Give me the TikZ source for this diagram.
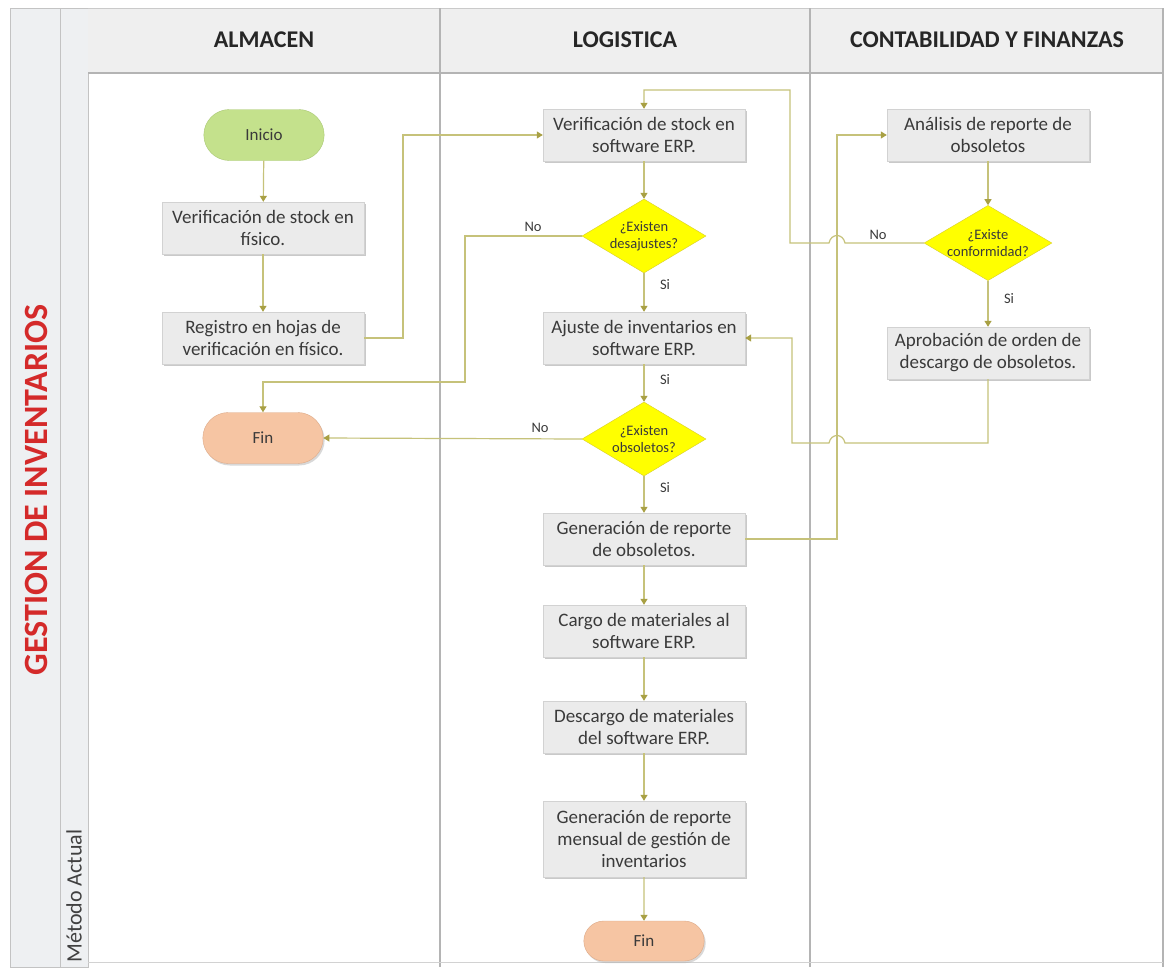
\documentclass[tikz,border=0pt]{standalone}
\usepackage{fontspec}
\setmainfont{Carlito}
\usetikzlibrary{arrows.meta,shapes.geometric,shapes.misc,shadows}

\definecolor{lanefill}{HTML}{EFEFEF}
\definecolor{laneline}{HTML}{B4B4B4}
\definecolor{bandfill}{HTML}{EEF0F2}
\definecolor{boxfill}{HTML}{EBEBEB}
\definecolor{boxline}{HTML}{D2D2D2}
\definecolor{flowc}{HTML}{C6C27A}
\definecolor{tipc}{HTML}{A8A044}
\definecolor{txt}{HTML}{3A3A3A}
\definecolor{decfill}{HTML}{FFFF00}
\definecolor{decline}{HTML}{D8CC30}
\definecolor{startfill}{HTML}{C4E18C}
\definecolor{startline}{HTML}{A9C874}
\definecolor{endfill}{HTML}{F6C5A3}
\definecolor{endline}{HTML}{DDAA88}
\definecolor{titlered}{HTML}{D42A2A}

\begin{document}
\begin{tikzpicture}[x=1pt,y=-1pt,
  stepbox/.style={draw=boxline, fill=boxfill, minimum width=202pt, minimum height=52pt,
    inner sep=2pt, align=center, text=txt, font=\fontsize{19}{22}\selectfont,
    drop shadow={shadow xshift=1.5pt, shadow yshift=-2pt, fill=black!35, opacity=0.6}},
  decision/.style={diamond, draw=decline, fill=decfill, minimum width=124pt, minimum height=74pt,
    inner sep=0pt, aspect=1.7, align=center, text=txt, font=\fontsize{14.5}{17}\selectfont},
  term/.style={rounded rectangle, minimum width=127pt, minimum height=51pt, text=txt,
    font=\fontsize{17}{20}\selectfont},
  startterm/.style={term, fill=startfill, draw=startline},
  endterm/.style={term, fill=endfill, draw=endline,
    drop shadow={shadow xshift=1.5pt, shadow yshift=-2pt, fill=black!30, opacity=0.5}},
  flow/.style={draw=flowc, line width=1.2pt, -{Triangle[width=7pt,length=6pt,color=tipc]}},
  lbl/.style={text=txt, font=\fontsize{14.5}{16}\selectfont},
  lanehead/.style={font=\fontsize{24}{27}\bfseries, text=black!85},
]
\useasboundingbox (0,0) rectangle (1165,967);

% swimlane frame
\fill[white] (0,0) rectangle (1165,967);
\filldraw[fill=bandfill, draw=laneline!80] (10,8) rectangle (60,967);
\filldraw[fill=bandfill, draw=laneline!80] (60,8) rectangle (88,967);
\fill[lanefill] (88,8) rectangle (1163,73);
\draw[laneline!70] (88,8) -- (1163,8);
\draw[laneline, line width=2pt] (88,73) -- (1163,73);
\foreach \lx in {440,810}
  \draw[laneline, line width=1.5pt] (\lx,8) -- (\lx,967);
\draw[laneline, line width=1.2pt] (1163,8) -- (1163,967);
\draw[laneline!60] (88,962) -- (1163,962);

% lane titles
\node[lanehead] (hA) at (264,40) {ALMACEN};
\node[lanehead] (hL) at (625,40) {LOGISTICA};
\node[lanehead] (hC) at (987,40) {CONTABILIDAD Y FINANZAS};
\node[rotate=90, font=\fontsize{34}{36}\bfseries, text=titlered] (ttl) at (36,490) {GESTION DE INVENTARIOS};
\node[rotate=90, anchor=east, font=\fontsize{22}{24}\selectfont, text=black!75] (met) at (74,826) {Método Actual};

% almacen
\node[startterm] (ini) at (264,135) {Inicio};
\node[stepbox] (vf) at (263,228) {Verificación de stock en\\físico.};
\node[stepbox] (reg) at (263,338) {Registro en hojas de\\verificación en físico.};
\node[endterm] (fin1) at (263,438) {Fin};

% logistica
\node[stepbox] (verp) at (644,135) {Verificación de stock en\\software ERP.};
\node[decision] (d1) at (644,236) {¿Existen\\desajustes?};
\node[stepbox] (aj) at (644,338) {Ajuste de inventarios en\\software ERP.};
\node[decision] (d2) at (644,439) {¿Existen\\obsoletos?};
\node[stepbox] (gro) at (644,539) {Generación de reporte\\de obsoletos.};
\node[stepbox] (car) at (644,631) {Cargo de materiales al\\software ERP.};
\node[stepbox] (des) at (644,727) {Descargo de materiales\\del software ERP.};
\node[stepbox, minimum height=76pt] (grm) at (644,839) {Generación de reporte\\mensual de gestión de\\inventarios};
\node[endterm, minimum height=40pt] (fin2) at (644,941) {Fin};

% contabilidad y finanzas
\node[stepbox] (ana) at (988,135) {Análisis de reporte de\\obsoletos};
\node[decision] (d3) at (988,243) {¿Existe\\conformidad?};
\node[stepbox] (apr) at (988,353) {Aprobación de orden de\\descargo de obsoletos.};

% connectors
\draw[flow] (ini) -- (vf);
\draw[flow] (vf) -- (reg);
\draw[flow] (reg.east) -- (403,338) |- (verp.west);
\draw[flow] (verp) -- (d1);
\draw[flow] (d1.west) -| (465,382) -| (fin1.north);
\draw[flow] (d1) -- (aj);
\draw[flow] (aj) -- (d2);
\draw[flow] (d2.west) -- (fin1.east);
\draw[flow] (d2) -- (gro);
\draw[flow] (gro) -- (car);
\draw[flow] (car) -- (des);
\draw[flow] (des) -- (grm);
\draw[flow] (grm) -- (fin2);
\draw[flow] (gro.east) -- (837,539) |- (ana.west);
\draw[flow] (ana) -- (d3);
\draw[flow] (d3) -- (apr);
\draw[flow] (d3.west) -- (845,243) .. controls (843,233) and (831,233) .. (829,243)
  -- (790,243) -- (790,90) -| (verp.north);
\draw[flow] (apr.south) -- (988,443) -- (845,443) .. controls (843,433) and (831,433) .. (829,443)
  -- (792,443) |- (aj.east);

% branch labels
\node[lbl] (n1) at (533,227) {No};
\node[lbl] (s1) at (665,285) {Si};
\node[lbl] (s2) at (665,380) {Si};
\node[lbl] (n2) at (540,428) {No};
\node[lbl] (s3) at (665,488) {Si};
\node[lbl] (n3) at (878,235) {No};
\node[lbl] (s4) at (1009,299) {Si};
\end{tikzpicture}
\end{document}
